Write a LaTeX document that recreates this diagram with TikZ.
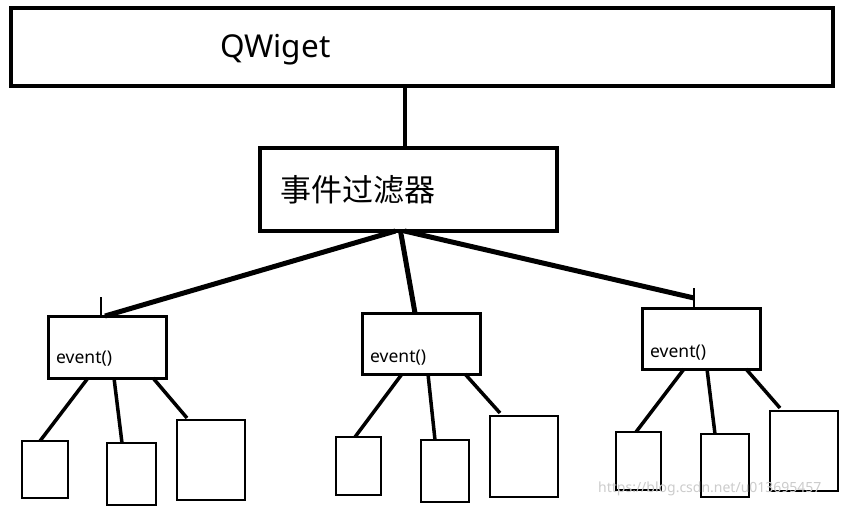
\documentclass[tikz,border=0pt]{standalone}
\usepackage{fontspec}
\setmainfont{Noto Sans}
\newfontfamily\cjk{Noto Sans CJK SC}
\begin{document}
\begin{tikzpicture}[x=1pt,y=-1pt,
  bigbox/.style={draw=black, line width=4.8pt, rectangle, inner sep=0pt, outer sep=0pt, fill=white},
  evbox/.style={draw=black, line width=3pt, rectangle, inner sep=0pt, outer sep=0pt},
  leaf/.style={draw=black, line width=2.8pt, rectangle, inner sep=0pt, outer sep=0pt},
  fan/.style={line width=5pt},
  twig/.style={line width=3.5pt},
  tick/.style={line width=1.4pt},
  evtext/.style={anchor=west, inner sep=0pt, font=\fontsize{17.5}{19}\selectfont}
]
\useasboundingbox[fill=white] (0,0) rectangle (846,507);

% top boxes
\node[bigbox, minimum width=822, minimum height=78] (Q) at (422,47) {};
\node[anchor=west, inner sep=0pt, font=\fontsize{31.5}{34}\selectfont] (Qt) at (220,50) {QWiget};
\node[bigbox, minimum width=297, minimum height=83] (F) at (408.5,189.5) {};
\node[anchor=west, inner sep=0pt, font=\cjk\fontsize{31}{34}\selectfont] (Ft) at (280,190) {事件过滤器};
\draw[line width=4pt] ([xshift=-17pt]Q.south) -- ([xshift=-3.5pt]F.north);

% event boxes
\node[evbox, minimum width=118, minimum height=62] (E1) at (107,347) {};
\node[evbox, minimum width=118, minimum height=61] (E2) at (421,343.5) {};
\node[evbox, minimum width=118, minimum height=61] (E3) at (701,338.5) {};
\node[evtext] (E1t) at ([xshift=8pt,yshift=19pt]E1.south west) {event()};
\node[evtext] (E2t) at ([xshift=8pt,yshift=16pt]E2.south west) {event()};
\node[evtext] (E3t) at ([xshift=8pt,yshift=16pt]E3.south west) {event()};

% ticks above event boxes
\coordinate (T1) at (101,297);
\coordinate (T3) at (694,288);
\draw[tick] (T1) -- ([xshift=-6pt]E1.north);
\draw[tick] (T3) -- ([xshift=-7pt]E3.north);

% fan from filter
\draw[fan] ([xshift=-13pt]F.south) -- ([xshift=-2pt]E1.north);
\draw[fan] ([xshift=-8pt]F.south) -- ([xshift=-6pt]E2.north);
\draw[fan] ([xshift=-4pt]F.south) -- ([xshift=-7pt,yshift=10pt]E3.north);

% leaves
\node[leaf, minimum width=46, minimum height=57] (c11) at (45,469.5) {};
\node[leaf, minimum width=49, minimum height=62] (c12) at (131.5,474) {};
\node[leaf, minimum width=68, minimum height=80] (c13) at (211,460) {};
\node[leaf, minimum width=45, minimum height=58] (c21) at (358.5,466) {};
\node[leaf, minimum width=48, minimum height=62] (c22) at (445,471) {};
\node[leaf, minimum width=68, minimum height=81] (c23) at (524,456.5) {};
\node[leaf, minimum width=45, minimum height=58] (c31) at (638.5,461) {};
\node[leaf, minimum width=48, minimum height=63] (c32) at (725,465.5) {};
\node[leaf, minimum width=68, minimum height=80] (c33) at (804,451) {};

% twigs
\draw[twig] ([xshift=-19pt]E1.south) -- ([xshift=-5pt]c11.north);
\draw[twig] ([xshift=7pt]E1.south) -- ([xshift=-9.5pt]c12.north);
\draw[twig] ([xshift=46pt]E1.south) -- ([xshift=-24pt,yshift=2pt]c13.north);
\draw[twig] ([xshift=-19pt]E2.south) -- ([xshift=-3.5pt]c21.north);
\draw[twig] ([xshift=7pt]E2.south) -- ([xshift=-10pt]c22.north);
\draw[twig] ([xshift=44pt]E2.south) -- ([xshift=-24pt,yshift=3pt]c23.north);
\draw[twig] ([xshift=-17pt]E3.south) -- ([xshift=-2.5pt]c31.north);
\draw[twig] ([xshift=6pt]E3.south) -- ([xshift=-10pt]c32.north);
\draw[twig] ([xshift=45pt]E3.south) -- ([xshift=-24pt,yshift=3pt]c33.north);

% watermark
\node[anchor=west, inner sep=0pt, text=gray!40, font=\fontsize{14}{16}\selectfont] (wm) at (598,489) {https://blog.csdn.net/u013695457};
\end{tikzpicture}
\end{document}
